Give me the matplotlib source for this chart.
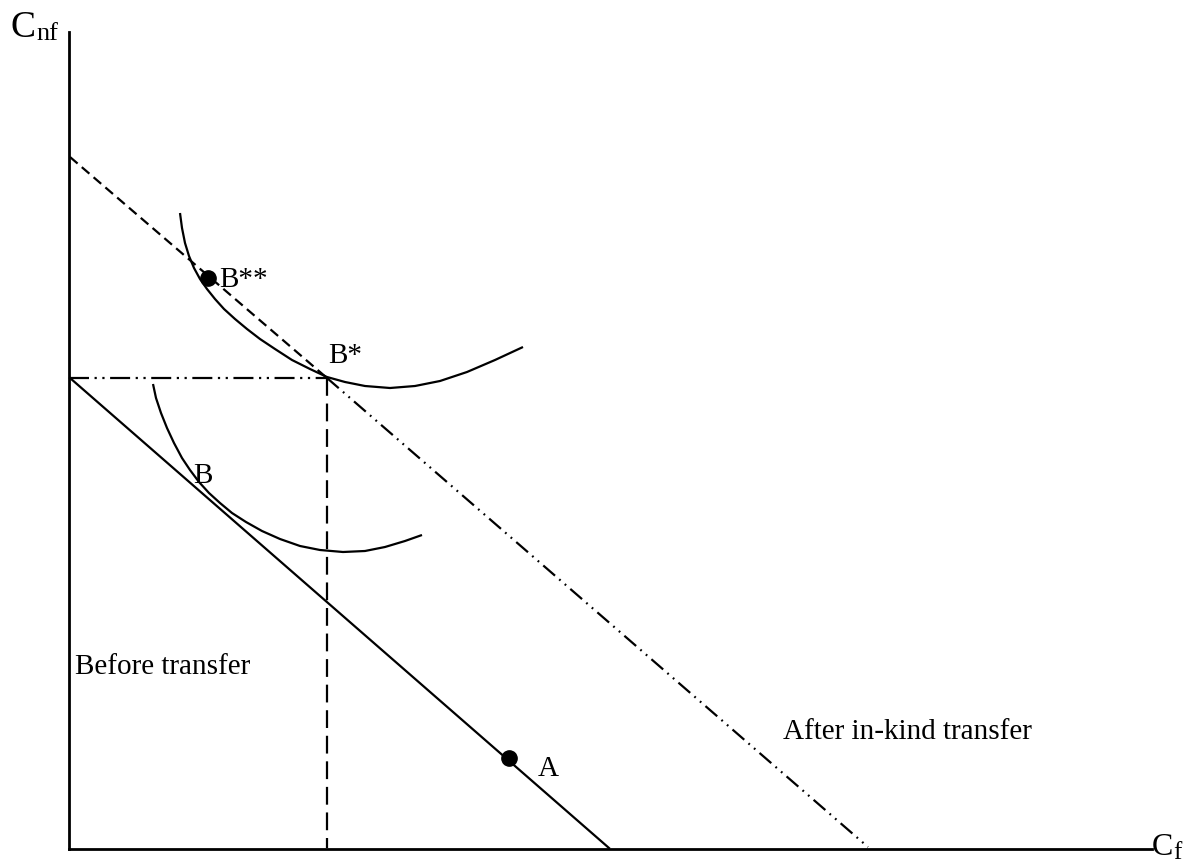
import matplotlib.pyplot as plt

# everything below is in picture pixels (x to the right, y downwards)
axis_origin = (69, 849)
axis_top_y = 32
axis_right_x = 1152

# budget lines
before_line_x = [70, 609]
before_line_y = [378, 848]
after_dashed_x = [70, 327]
after_dashed_y = [157, 378]
after_dashdot_x = [327, 868]
after_dashdot_y = [378, 847]

# B* guide lines
guide_h_x = [69, 327]
guide_h_y = [378, 378]
guide_v_x = [327, 327]
guide_v_y = [378, 848]

# indifference curves
ic_high_x = [180, 182, 185, 189, 194, 200, 207, 215, 224, 235, 247, 260, 275, 292,
             310, 327, 345, 365, 390, 415, 440, 467, 495, 523]
ic_high_y = [213, 228, 243, 256, 268, 279, 289, 299, 309, 319, 329, 339, 349, 360,
             369, 377, 382, 386, 388, 386, 381, 372, 360, 347]
ic_low_x = [153, 156, 161, 167, 174, 182, 190, 199, 209, 220, 232, 246, 262, 280,
            300, 320, 343, 365, 385, 405, 422]
ic_low_y = [384, 398, 413, 428, 443, 458, 470, 482, 493, 503, 513, 522, 531, 539,
            546, 550, 552, 551, 547, 541, 535]

# dots
dot_x = [208, 509]
dot_y = [278, 758]

plt.rcParams['font.family'] = ['Liberation Serif', 'DejaVu Serif']

fig = plt.figure(figsize=(11.98, 8.66), dpi=100)
ax = fig.add_axes([0, 0, 1, 1])
ax.set_xlim(0, 1198)
ax.set_ylim(866, 0)
ax.axis('off')

lw = 1.6
# axes
ax.plot([axis_origin[0], axis_origin[0]], [axis_top_y, axis_origin[1]], color='black', lw=2)
ax.plot([axis_origin[0], axis_right_x], [axis_origin[1], axis_origin[1]], color='black', lw=2)

ax.plot(before_line_x, before_line_y, color='black', lw=lw)
ax.plot(after_dashed_x, after_dashed_y, color='black', lw=lw, linestyle=(0, (4.5, 2.5)))
ax.plot(after_dashdot_x, after_dashdot_y, color='black', lw=lw,
        linestyle=(0, (7, 2.5, 0.8, 2.5, 0.8, 2.5)))
ax.plot(guide_h_x, guide_h_y, color='black', lw=lw,
        linestyle=(0, (9, 2.5, 1, 2.5, 1, 2.5)))
ax.plot(guide_v_x, guide_v_y, color='black', lw=lw, linestyle=(0, (8, 3.5)))

ax.plot(ic_high_x, ic_high_y, color='black', lw=lw, solid_capstyle='butt', solid_joinstyle='round')
ax.plot(ic_low_x, ic_low_y, color='black', lw=lw, solid_capstyle='butt', solid_joinstyle='round')

ax.plot(dot_x, dot_y, 'o', color='black', ms=11, zorder=5)

# labels
fs = 21
ax.text(11, 37, 'C', fontsize=27, ha='left', va='baseline')
ax.text(36, 40, 'nf', fontsize=19, ha='left', va='baseline')
ax.text(1152, 855, 'C', fontsize=23, ha='left', va='baseline')
ax.text(1173, 859, 'f', fontsize=18, ha='left', va='baseline')

ax.text(219, 287, 'B**', fontsize=fs, ha='left', va='baseline')
ax.text(328, 363, 'B*', fontsize=fs, ha='left', va='baseline')
ax.text(193, 483, 'B', fontsize=fs, ha='left', va='baseline')
ax.text(538, 776, 'A', fontsize=fs, ha='left', va='baseline')
ax.text(75, 674, 'Before transfer', fontsize=fs, ha='left', va='baseline')
ax.text(783, 739, 'After in-kind transfer', fontsize=fs, ha='left', va='baseline')

fig.savefig('out.png', dpi=100)
